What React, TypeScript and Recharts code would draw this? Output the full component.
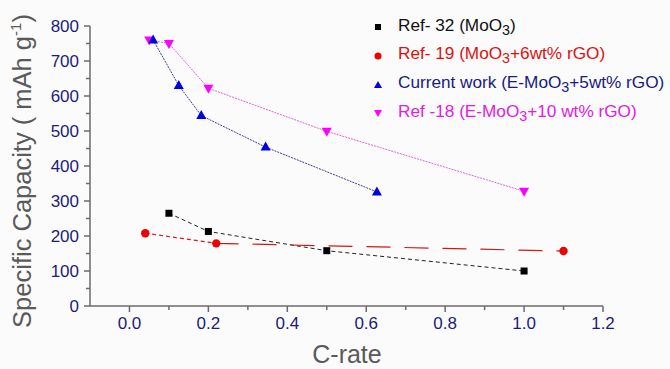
import React from 'react';
import {
  ScatterChart,
  Scatter,
  XAxis,
  YAxis,
  Legend,
} from 'recharts';

// C-rate vs specific capacity (mAh g-1)
const ref32 = [
  { x: 0.1, y: 265 },
  { x: 0.2, y: 213 },
  { x: 0.5, y: 158 },
  { x: 1.0, y: 100 },
];

const ref19 = [
  { x: 0.04, y: 208 },
  { x: 0.22, y: 179 },
  { x: 1.1, y: 157 },
];

const currentWork = [
  { x: 0.06, y: 760 },
  { x: 0.125, y: 630 },
  { x: 0.182, y: 544 },
  { x: 0.345, y: 454 },
  { x: 0.627, y: 326 },
];

const ref18 = [
  { x: 0.05, y: 760 },
  { x: 0.1, y: 750 },
  { x: 0.2, y: 622 },
  { x: 0.5, y: 499 },
  { x: 1.0, y: 328 },
];

const xTicks = [0, 0.1, 0.2, 0.3, 0.4, 0.5, 0.6, 0.7, 0.8, 0.9, 1.0, 1.1, 1.2];
const yTicks = [0, 50, 100, 150, 200, 250, 300, 350, 400, 450, 500, 550, 600, 650, 700, 750, 800];

const FONT = '"Liberation Sans", Arial, Helvetica, sans-serif';
const AXIS = '#6b6b6b';
const TICK_TEXT = '#1c1c7a';
const LABEL = '#5a5a5a';

// short dashes on the first stretch, long dashes after, like the source figure
const redDash = [
  ...Array(10).fill('4 3'),
  ...Array(10).fill('24 14'),
].join(' ');

const Square = (props: any) => {
  const { cx, cy } = props;
  return <rect x={cx - 3.5} y={cy - 3.5} width={7} height={7} fill="#000" />;
};

const Dot = (props: any) => {
  const { cx, cy } = props;
  return <circle cx={cx} cy={cy} r={4.2} fill="#f00000" />;
};

const TriUp = (props: any) => {
  const { cx, cy } = props;
  return <path d={`M${cx},${cy - 5.5}L${cx + 5},${cy + 3.5}L${cx - 5},${cy + 3.5}Z`} fill="#0000e6" />;
};

const TriDown = (props: any) => {
  const { cx, cy } = props;
  return <path d={`M${cx},${cy + 5.5}L${cx + 5},${cy - 3.5}L${cx - 5},${cy - 3.5}Z`} fill="#ff00ff" />;
};

const XTick = (props: any) => {
  const { x, y, payload } = props;
  const v = payload.value;
  const major = Math.round(v * 10) % 2 === 0;
  return (
    <g>
      <line x1={x} y1={y} x2={x} y2={y + (major ? 6 : 4)} stroke={AXIS} strokeWidth={1.5} />
      {major && (
        <text x={x} y={y + 23} textAnchor="middle" fill={TICK_TEXT} fontSize={17} fontFamily={FONT}>
          {v.toFixed(1)}
        </text>
      )}
    </g>
  );
};

const YTick = (props: any) => {
  const { x, y, payload } = props;
  const v = payload.value;
  const major = v % 100 === 0;
  return (
    <g>
      <line x1={x} y1={y} x2={x - (major ? 6 : 4)} y2={y} stroke={AXIS} strokeWidth={1.5} />
      {major && (
        <text x={x - 11} y={y + 6} textAnchor="end" fill={TICK_TEXT} fontSize={17} fontFamily={FONT}>
          {v}
        </text>
      )}
    </g>
  );
};

const legendItems = [
  { key: 'ref32', color: '#111', marker: 'square', text: <>Ref- 32 (MoO<sub>3</sub>)</> },
  { key: 'ref19', color: '#e01010', marker: 'dot', text: <>Ref- 19 (MoO<sub>3</sub>+6wt% rGO)</> },
  { key: 'cur', color: '#1a1a80', marker: 'up', text: <>Current work (E-MoO<sub>3</sub>+5wt% rGO)</> },
  { key: 'ref18', color: '#e020e0', marker: 'down', text: <>Ref -18 (E-MoO<sub>3</sub>+10 wt% rGO)</> },
];

const LegendMarker = ({ type }: { type: string }) => (
  <svg width={12} height={12} style={{ marginRight: 14 }}>
    {type === 'square' && <rect x={3} y={3} width={6} height={6} fill="#000" />}
    {type === 'dot' && <circle cx={6} cy={6} r={3.5} fill="#f00000" />}
    {type === 'up' && <path d="M6,2L10,9L2,9Z" fill="#0000e6" />}
    {type === 'down' && <path d="M6,10L10,3L2,3Z" fill="#ff00ff" />}
  </svg>
);

const renderLegend = () => (
  <div style={{ fontFamily: FONT, fontSize: 17.2 }}>
    {legendItems.map((it) => (
      <div key={it.key} style={{ display: 'flex', alignItems: 'center', height: 28.7, color: it.color, whiteSpace: 'nowrap' }}>
        <LegendMarker type={it.marker} />
        <span style={{ lineHeight: '20px' }}>{it.text}</span>
      </div>
    ))}
  </div>
);

const YLabel = () => (
  <text
    x={31}
    y={171}
    transform="rotate(-90 31 171)"
    textAnchor="middle"
    fill={LABEL}
    fontSize={25.5}
    fontFamily={FONT}
  >
    Specific Capacity ( mAh g<tspan dy={-10} fontSize={15}>-1</tspan>
    <tspan dy={10}>)</tspan>
  </text>
);

const XLabel = () => (
  <text x={347} y={363} textAnchor="middle" fill={LABEL} fontSize={25} fontFamily={FONT}>
    C-rate
  </text>
);

export default function App() {
  return (
    <div style={{ position: 'fixed', left: 0, top: 0, width: 670, height: 369, background: '#fbfbfb' }}>
      <ScatterChart width={670} height={369} margin={{ top: 26, right: 67, bottom: 23, left: 0 }}>
        <XAxis
          type="number"
          dataKey="x"
          domain={[-0.1, 1.2]}
          ticks={xTicks}
          interval={0}
          height={40}
          tickSize={0}
          tickMargin={0}
          tickLine={false}
          tick={<XTick />}
          axisLine={{ stroke: AXIS, strokeWidth: 1.5 }}
          label={{ content: () => <XLabel /> }}
          allowDataOverflow
        />
        <YAxis
          type="number"
          dataKey="y"
          domain={[0, 800]}
          ticks={yTicks}
          interval={0}
          width={90}
          tickSize={0}
          tickMargin={0}
          tickLine={false}
          tick={<YTick />}
          axisLine={{ stroke: AXIS, strokeWidth: 1.5 }}
          label={{ content: () => <YLabel /> }}
          allowDataOverflow
        />
        <Legend
          layout="vertical"
          align="center"
          verticalAlign="middle"
          content={renderLegend}
          wrapperStyle={{ position: 'absolute', left: 372, top: 13, width: 300 }}
        />
        <Scatter
          name="Ref- 32"
          data={ref32}
          line={{ stroke: '#222', strokeWidth: 1, strokeDasharray: '4 3' }}
          lineType="joint"
          shape={<Square />}
          isAnimationActive={false}
        />
        <Scatter
          name="Ref- 19"
          data={ref19}
          line={{ stroke: '#d01818', strokeWidth: 1.2, strokeDasharray: redDash }}
          lineType="joint"
          shape={<Dot />}
          isAnimationActive={false}
        />
        <Scatter
          name="Ref -18"
          data={ref18}
          line={{ stroke: '#e060e0', strokeWidth: 1, strokeDasharray: '2 1' }}
          lineType="joint"
          shape={<TriDown />}
          isAnimationActive={false}
        />
        <Scatter
          name="Current work"
          data={currentWork}
          line={{ stroke: '#3a3aa0', strokeWidth: 1, strokeDasharray: '2 1' }}
          lineType="joint"
          shape={<TriUp />}
          isAnimationActive={false}
        />
      </ScatterChart>
    </div>
  );
}
